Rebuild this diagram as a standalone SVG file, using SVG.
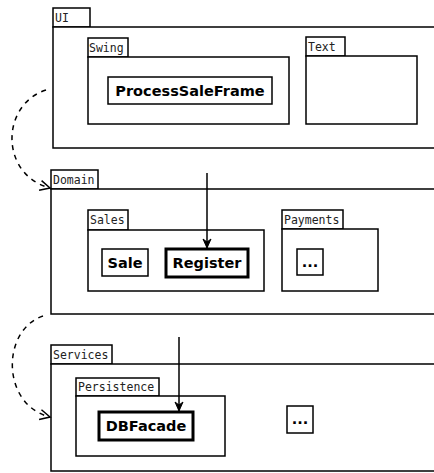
<svg xmlns="http://www.w3.org/2000/svg" width="434" height="473" viewBox="0 0 434 473">
  <style>
    .frame { fill: #fff; stroke: #000; stroke-width: 1.5; }
    .cls { fill: #fff; stroke: #000; stroke-width: 1.5; }
    .key { fill: #fff; stroke: #000; stroke-width: 3; }
    .tab { font-family: "DejaVu Sans Mono", monospace; font-size: 11.5px; fill: #222; }
    .name { font-family: "DejaVu Sans", sans-serif; font-weight: bold; font-size: 14.5px; fill: #000; text-anchor: middle; }
    .dep { fill: none; stroke: #000; stroke-width: 1.5; stroke-dasharray: 5 5; }
    .use { fill: none; stroke: #000; stroke-width: 1.5; }
  </style>
  <defs>
    <marker id="open" markerWidth="14" markerHeight="14" refX="11" refY="6" orient="auto" markerUnits="userSpaceOnUse">
      <path d="M1,1 L11,6 L1,11" fill="none" stroke="#000" stroke-width="1.5"/>
    </marker>
    <marker id="solid" markerWidth="12" markerHeight="12" refX="10" refY="5" orient="auto" markerUnits="userSpaceOnUse">
      <path d="M1,1 L10,5 L1,9 L4,5 Z" fill="#000" stroke="#000" stroke-width="1"/>
    </marker>
  </defs>

  <rect width="434" height="473" fill="#fff"/>

  <!-- UI layer -->
  <g id="ui">
    <rect class="frame" x="53" y="8" width="37" height="19"/>
    <text class="tab" x="55" y="22">UI</text>
    <rect class="frame" x="53" y="27" width="390" height="121"/>
  </g>
  <g id="swing">
    <rect class="frame" x="88" y="38" width="40" height="19"/>
    <text class="tab" x="89" y="52">Swing</text>
    <rect class="frame" x="88" y="57" width="201" height="67"/>
  </g>
  <g id="process-sale-frame">
    <rect class="cls" x="108" y="77" width="164" height="27"/>
    <text class="name" x="190" y="96">ProcessSaleFrame</text>
  </g>
  <g id="text-pkg">
    <rect class="frame" x="306" y="37" width="39" height="19"/>
    <text class="tab" x="308" y="51">Text</text>
    <rect class="frame" x="306" y="56" width="111" height="68"/>
  </g>

  <!-- Domain layer -->
  <g id="domain">
    <rect class="frame" x="51" y="170" width="47" height="19"/>
    <text class="tab" x="53" y="184">Domain</text>
    <rect class="frame" x="51" y="189" width="392" height="125"/>
  </g>
  <g id="sales">
    <rect class="frame" x="88" y="210" width="40" height="20"/>
    <text class="tab" x="90" y="224">Sales</text>
    <rect class="frame" x="88" y="230" width="176" height="61"/>
  </g>
  <g id="sale">
    <rect class="cls" x="102" y="249" width="46" height="27"/>
    <text class="name" x="125" y="268">Sale</text>
  </g>
  <g id="register">
    <rect class="key" x="166" y="249" width="82" height="28"/>
    <text class="name" x="207" y="268">Register</text>
  </g>
  <g id="payments">
    <rect class="frame" x="282" y="210" width="61" height="19"/>
    <text class="tab" x="284" y="224">Payments</text>
    <rect class="frame" x="282" y="229" width="96" height="62"/>
  </g>
  <g id="payments-more">
    <rect class="cls" x="297" y="249" width="26" height="26"/>
    <text class="name" x="310" y="267">...</text>
  </g>

  <!-- Services layer -->
  <g id="services">
    <rect class="frame" x="51" y="345" width="61" height="19"/>
    <text class="tab" x="53" y="359">Services</text>
    <rect class="frame" x="51" y="364" width="392" height="107"/>
  </g>
  <g id="persistence">
    <rect class="frame" x="76" y="378" width="83" height="18"/>
    <text class="tab" x="78" y="391">Persistence</text>
    <rect class="frame" x="76" y="396" width="149" height="60"/>
  </g>
  <g id="db-facade">
    <rect class="key" x="99" y="412" width="94" height="28"/>
    <text class="name" x="146" y="431">DBFacade</text>
  </g>
  <g id="services-more">
    <rect class="cls" x="287" y="406" width="26" height="27"/>
    <text class="name" x="300" y="424">...</text>
  </g>

  <!-- Connectors -->
  <g id="connectors">
    <path class="dep" d="M46,90 C0,105 0,175 50,188" marker-end="url(#open)"/>
    <path class="dep" d="M43,316 C1,330 1,405 50,417" marker-end="url(#open)"/>
    <path class="use" d="M207,173 L207,248" marker-end="url(#solid)"/>
    <path class="use" d="M179,337 L179,411" marker-end="url(#solid)"/>
  </g>
</svg>
